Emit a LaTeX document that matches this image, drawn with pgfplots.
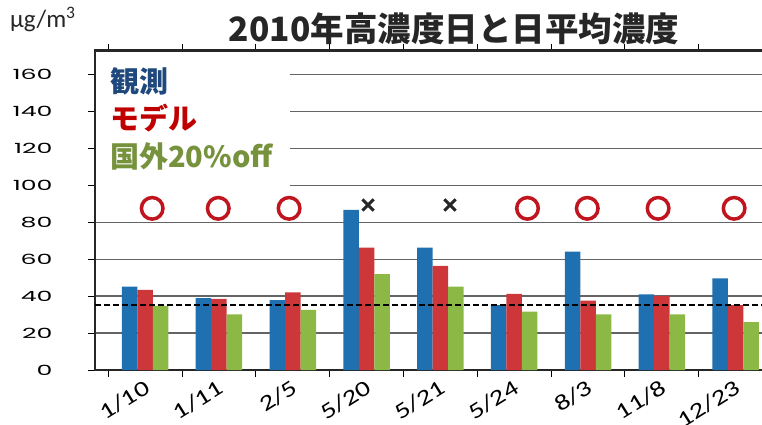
\documentclass[border=0pt]{standalone}
\usepackage{fontspec}
\usepackage{pgfplots}
\usepackage{pgfplotstable}
\pgfplotsset{compat=1.18}
\setmainfont{Carlito}
\newfontfamily\jp{Noto Sans CJK JP}
\newfontfamily\ytf[FakeStretch=1.8]{Poppins}
\newfontfamily\xtf[FakeStretch=1.3]{Carlito}

\definecolor{cblue}{RGB}{30,112,176}
\definecolor{cred}{RGB}{205,55,58}
\definecolor{cgreen}{RGB}{140,185,70}
\definecolor{lblue}{RGB}{31,73,125}
\definecolor{lred}{RGB}{192,0,0}
\definecolor{lgreen}{RGB}{118,146,60}
\definecolor{ored}{RGB}{192,20,30}
\definecolor{gridgray}{RGB}{100,100,100}

% daily mean, ug/m3
\pgfplotstableread{
x obs model intl
0 45.2 43.4 34.7
1 39.0 38.5 30.2
2 37.8 42.0 32.6
3 86.7 66.3 51.9
4 66.3 56.4 45.2
5 35.2 41.2 31.6
6 64.1 37.6 30.2
7 41.0 40.1 30.2
8 49.7 35.2 26.0
}\daily

\begin{document}
\begin{tikzpicture}
\useasboundingbox (0,0) rectangle (762pt,424pt);
\clip (0,0) rectangle (762pt,424pt);
\begin{axis}[
    at={(95pt,54pt)}, anchor=south west,
    scale only axis,
    width=755pt, height=319.3pt,
    xmin=-0.68, xmax=9.55,
    ymin=0, ymax=173,
    ytick={0,20,...,160},
    xtick={-0.5,0.5,...,9.5},
    x tick label as interval,
    xticklabels={1/10,1/11,2/5,5/20,5/21,5/24,8/3,11/8,12/23,1},
    xticklabel style={font=\xtf\fontsize{22}{22}\selectfont, rotate=32, anchor=north east, xshift=1pt, yshift=3pt},
    yticklabel style={font=\ytf\fontsize{14}{14}\selectfont, anchor=east, xshift=-32pt,
        /pgf/number format/assume math mode=true},
    tick align=outside,
    major tick length=7pt,
    tick style={black, line width=1pt},
    ymajorgrids,
    grid style={gridgray, line width=1.4pt},
    axis line style={black!85, line width=2.5pt},
]
\addplot[ybar, bar width=15.5pt, bar shift=-15.5pt, fill=cblue, draw=none] table[x=x, y=obs] {\daily};
\addplot[ybar, bar width=15.5pt, bar shift=0pt, fill=cred, draw=none] table[x=x, y=model] {\daily};
\addplot[ybar, bar width=15.5pt, bar shift=15.5pt, fill=cgreen, draw=none] table[x=x, y=intl] {\daily};
\addplot[black, line width=1.5pt, dash pattern=on 6pt off 3pt] coordinates {(-0.68,35.2) (9.55,35.2)};
\addplot[only marks, mark=o, ored, mark size=10.8pt, line width=3.5pt] coordinates {
    (0.095,87.6) (0.99,87.6) (1.95,87.6) (5.18,87.6) (5.99,87.6) (6.95,87.6) (7.98,87.6)};
\addplot[only marks, mark=x, black!85, mark size=8pt, line width=3pt] coordinates {
    (3.02,89.4) (4.13,89.4)};
\fill[white] ([xshift=1.3pt,yshift=-1.3pt]rel axis cs:0,1) rectangle (axis cs:1.965,96.5);
\end{axis}
\node[anchor=base, font=\jp\bfseries\fontsize{33.5}{33.5}\selectfont, text=black!85] at (454pt,382pt) {2010年高濃度日と日平均濃度};
\node[anchor=base west, font=\fontsize{25}{25}\selectfont, text=black!85, inner sep=0pt] at (10pt,396pt) {µg/m\textsuperscript{3}};
\node[anchor=base west, font=\jp\bfseries\fontsize{29}{29}\selectfont, text=lblue, inner sep=0pt] at (110pt,332pt) {観測};
\node[anchor=base west, font=\jp\bfseries\fontsize{29}{29}\selectfont, text=lred, inner sep=0pt] at (110pt,295pt) {モデル};
\node[anchor=base west, font=\jp\bfseries\fontsize{29}{29}\selectfont, text=lgreen, inner sep=0pt] at (110pt,257pt) {国外20\%off};
\end{tikzpicture}
\end{document}
